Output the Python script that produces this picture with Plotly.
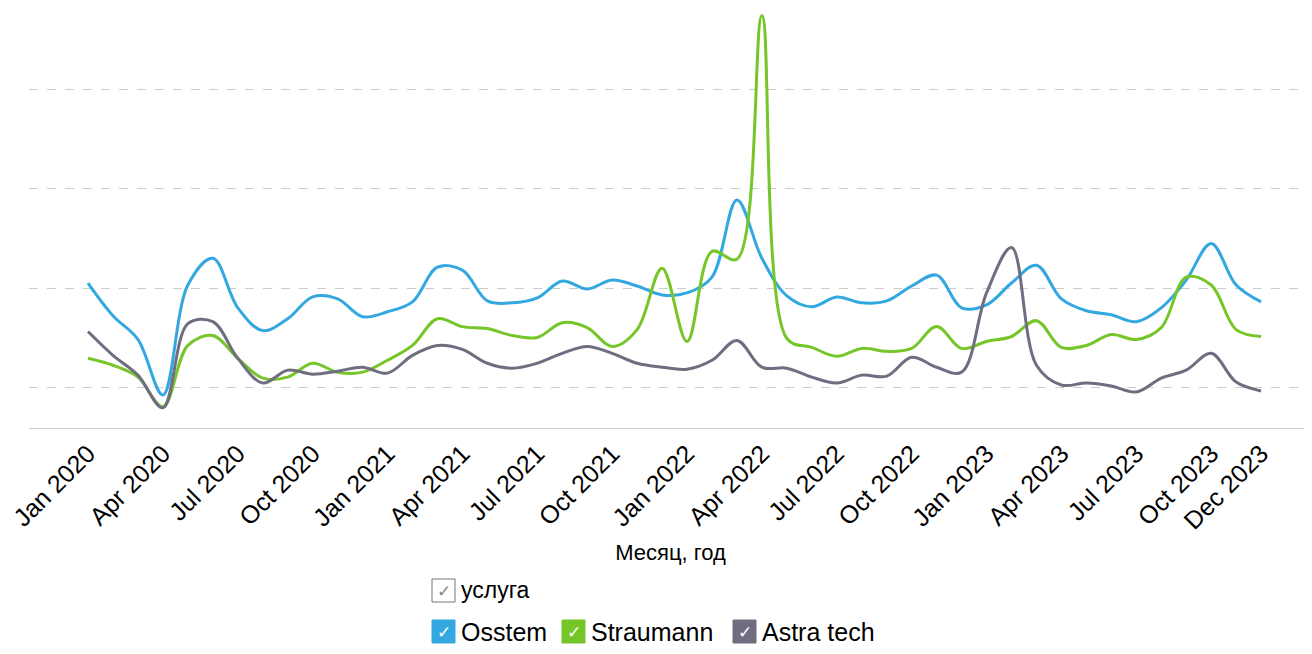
import plotly.graph_objects as go

months = ["Jan 2020","Feb 2020","Mar 2020","Apr 2020","May 2020","Jun 2020","Jul 2020","Aug 2020","Sep 2020","Oct 2020","Nov 2020","Dec 2020",
          "Jan 2021","Feb 2021","Mar 2021","Apr 2021","May 2021","Jun 2021","Jul 2021","Aug 2021","Sep 2021","Oct 2021","Nov 2021","Dec 2021",
          "Jan 2022","Feb 2022","Mar 2022","Apr 2022","May 2022","Jun 2022","Jul 2022","Aug 2022","Sep 2022","Oct 2022","Nov 2022","Dec 2022",
          "Jan 2023","Feb 2023","Mar 2023","Apr 2023","May 2023","Jun 2023","Jul 2023","Aug 2023","Sep 2023","Oct 2023","Nov 2023","Dec 2023"]

osstem = [205,172,148,92,203,230,180,157,169,191,189,171,176,186,221,218,187,185,190,207,199,208,202,193,
          195,211,289,230,192,181,191,185,187,202,213,180,183,205,223,189,177,173,166,180,208,245,203,186]
straumann = [129,122,110,80,142,152,129,109,110,124,115,115,127,142,169,161,159,152,150,165,160,141,158,220,
             146,237,229,475,149,140,131,139,136,139,161,139,146,151,167,140,142,153,148,160,211,203,158,151]
astra = [156,132,112,79,164,166,129,104,117,113,116,120,114,132,142,138,124,119,124,134,141,134,124,120,
         118,127,147,120,119,110,104,112,111,130,120,115,195,241,122,102,104,101,95,109,117,134,105,96]

tick_labels = ["Jan 2020","Apr 2020","Jul 2020","Oct 2020","Jan 2021","Apr 2021","Jul 2021","Oct 2021",
               "Jan 2022","Apr 2022","Jul 2022","Oct 2022","Jan 2023","Apr 2023","Jul 2023","Oct 2023","Dec 2023"]
grid_values = [100, 200, 300, 400]

series = [("Osstem", osstem, "#33a8e0"), ("Straumann", straumann, "#76c529"), ("Astra tech", astra, "#6f6e80")]
legend_title = "услуга"
x_title = "Месяц, год"

FONT = "Liberation Sans, Arial, sans-serif"

# page has an 8px body margin; figure is sized to fit the 1312x654 window
OFF = 8
W, H = 1312 - OFF, 654 - OFF
ML, MR, MT, MB = 29 - OFF, 0, 0, 654 - OFF - (428 - OFF)
PW, PH = W - ML - MR, H - MT - MB

def px(sx):
    return (sx - 29) / PW

def py(sy):
    return (428 - sy) / PH

fig = go.Figure()
idx = list(range(len(months)))
for name, vals, color in series:
    fig.add_trace(go.Scatter(x=idx, y=vals, name=name, mode="lines",
                             line=dict(color=color, width=3, shape="spline", smoothing=1.0),
                             text=months, hovertemplate="%{text}: %{y}<extra>" + name + "</extra>"))

tick_idx = [months.index(t) for t in tick_labels]

fig.update_layout(
    width=W, height=H,
    margin=dict(l=ML, r=MR, t=MT, b=MB),
    plot_bgcolor="white", paper_bgcolor="white",
    showlegend=False,
    font=dict(family=FONT, color="#000"),
    xaxis=dict(range=[-2.364, 49.04], tickvals=tick_idx, ticktext=tick_labels,
               tickangle=-45, tickfont=dict(size=25, family=FONT, color="#000"),
               ticklabeloverflow="allow",
               showgrid=False, zeroline=False, showline=True, linecolor="#cccccc", linewidth=1,
               ticks="", title=dict(text=x_title, font=dict(size=22, family=FONT, color="#000"), standoff=11)),
    yaxis=dict(range=[58.6, 482.8], tickvals=grid_values, showticklabels=False,
               showgrid=True, gridcolor="#cccccc", griddash="dash", gridwidth=1,
               zeroline=False, showline=False, ticks=""),
)

shapes = []
annotations = []

def box(x0, y0, fill, line):
    shapes.append(dict(type="rect", xref="paper", yref="paper",
                       x0=px(x0), x1=px(x0 + 23), y0=py(y0 + 23), y1=py(y0),
                       fillcolor=fill, line=dict(color=line, width=1)))

def check(x0, y0, color):
    annotations.append(dict(xref="paper", yref="paper", x=px(x0 + 11.5), y=py(y0 + 12),
                            text="✓", showarrow=False, xanchor="center", yanchor="middle",
                            font=dict(size=17, color=color, family="DejaVu Sans")))

def label(x0, yc, text, size):
    annotations.append(dict(xref="paper", yref="paper", x=px(x0), y=py(yc),
                            text=text, showarrow=False, xanchor="left", yanchor="middle",
                            font=dict(size=size, color="#000", family=FONT)))

# legend title row
box(432, 579, "white", "#777777")
check(432, 579, "#888888")
label(459, 590, legend_title, 23)

# legend items row
item_x = [432, 562, 733]
for (name, vals, color), bx in zip(series, item_x):
    box(bx, 620, color, color)
    check(bx, 620, "white")
    label(bx + 27, 632, name, 25)

fig.update_layout(shapes=shapes, annotations=annotations)
fig.write_html("out.html")
